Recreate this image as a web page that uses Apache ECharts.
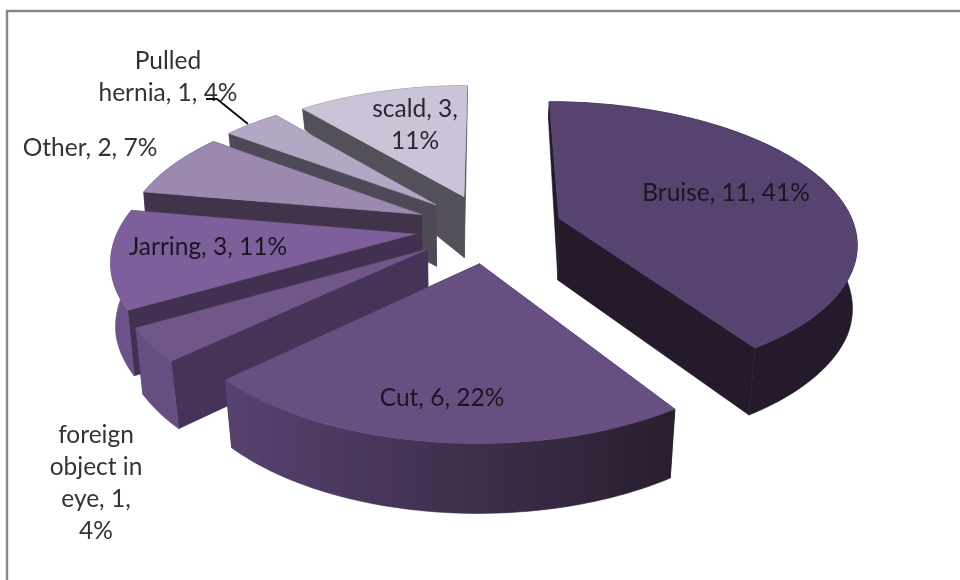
<!DOCTYPE html>
<html>
<head>
<meta charset="utf-8">
<style>
  html, body { margin: 0; padding: 0; background: #fff; }
  #chart { width: 960px; height: 580px; }
</style>
<script src="https://cdn.jsdelivr.net/npm/echarts@6/dist/echarts.min.js"></script>
</head>
<body>
<div id="chart"></div>
<script>
// data
var categories = ['Bruise', 'Cut', 'foreign object in eye', 'Jarring', 'Other', 'Pulled hernia', 'scald'];
var values = [11, 6, 1, 3, 2, 1, 3];
var wordsPerLine = [[3], [3], [1, 2, 2, 1], [3], [3], [1, 3], [2, 1]];

// slice colours
var topColors = ['#57436f', '#684f82', '#705689', '#7d5f9b', '#9c89af', '#b3a8c3', '#cbc4d8'];
var radialColors = ['#251a2b', '#2a2030', '#463358', '#41304f', '#40334a', '#4f4857', '#54505a'];
var rimColors = [
	['#251a2b', '#251a2b'],
	['#574270', '#281e2e'],
	['#654e82', '#654e82'],
	['#6b5289', '#6b5289'],
	['#40334a', '#40334a'],
	['#4f4857', '#4f4857'],
	['#54505a', '#54505a']
];
// label centres in pixels, and their ink
var labelPos = [[726, 193], [442, 398], [96, 483], [208, 247], [90, 148], [168, 77], [415, 125]];
var labelColors = ['#1a1620', '#1a1620', '#333', '#1a1620', '#333', '#333', '#2a2830'];

// projection fitted to the picture
var cx = 488.5, cy = 228, scaleX = 296, scaleY = 138, persp = 0.16, explode = 0.251;

function project(u, v) {
	var w = 1 + persp * v;
	return [cx + scaleX * u / w, cy - scaleY * v / w];
}

// the underside sits lower and pulls slightly to the centre
function dropped(u, v) {
	var p = project(u, v);
	var h = v > 0.24 ? 61 - (v - 0.24) * 52.6 : 61 + (0.24 - v) * 6;
	var pull = 0.975 + 0.012 * Math.max(0, Math.min(1, (v + 0.9) / 0.6));
	return [cx + (p[0] - cx) * pull, p[1] + h];
}

function labelText(i, pct) {
	var words = (categories[i] + ', ' + values[i] + ', ' + pct + '%').split(' ');
	var at = 0;
	return wordsPerLine[i].map(function (n) {
		var line = words.slice(at, at + n).join(' ');
		at += n;
		return line;
	}).join('\n');
}

var total = values.reduce(function (a, b) { return a + b; }, 0);
var slices = [];
var sum = 0;
values.forEach(function (val, i) {
	var a0 = sum / total * Math.PI * 2;
	sum += val;
	var a1 = sum / total * Math.PI * 2;
	var mid = (a0 + a1) / 2;
	slices.push({ a0: a0, a1: a1, ou: explode * Math.sin(mid), ov: explode * Math.cos(mid) });
});

function rimPoints(s) {
	var n = Math.max(4, Math.ceil((s.a1 - s.a0) * 40));
	var pts = [];
	for (var k = 0; k <= n; k++) {
		var a = s.a0 + (s.a1 - s.a0) * k / n;
		pts.push([s.ou + Math.sin(a), s.ov + Math.cos(a)]);
	}
	return pts;
}

function renderSlice(params) {
	var i = params.dataIndex;
	var s = slices[i];
	var rim = rimPoints(s);
	var apex = [s.ou, s.ov];
	var first = rim[0], last = rim[rim.length - 1];
	var base = Math.round((1 - s.ov) * 100) * 10;

	var wall = function (a, b) {
		return {
			type: 'polygon',
			z2: base + ((a[1] + b[1]) < (apex[1] + last[1]) ? 2 : 1),
			shape: { points: [project(a[0], a[1]), project(b[0], b[1]), dropped(b[0], b[1]), dropped(a[0], a[1])] },
			style: { fill: radialColors[i], stroke: radialColors[i], lineWidth: 0.6 }
		};
	};

	var top = rim.map(function (p) { return project(p[0], p[1]); });
	var bottom = rim.map(function (p) { return dropped(p[0], p[1]); }).reverse();
	var rimFill = new echarts.graphic.LinearGradient(0, 0, 1, 0, [
		{ offset: 0, color: rimColors[i][0] },
		{ offset: 1, color: rimColors[i][1] }
	]);

	return {
		type: 'group',
		children: [
			wall(apex, first),
			wall(apex, last),
			{
				type: 'polygon',
				z2: base + 3,
				shape: { points: top.concat(bottom) },
				style: { fill: rimFill, stroke: rimFill, lineWidth: 0.6 }
			},
			{
				type: 'polygon',
				z2: base + 4,
				shape: { points: [project(apex[0], apex[1])].concat(top) },
				style: { fill: topColors[i], stroke: topColors[i], lineWidth: 0.6 }
			},
			{
				type: 'text',
				z2: 5000,
				x: labelPos[i][0],
				y: labelPos[i][1],
				style: {
					text: labelText(i, Math.round(values[i] / total * 100)),
					fill: labelColors[i],
					font: '24.5px Lato',
					lineHeight: 32,
					align: 'center',
					verticalAlign: 'middle'
				}
			}
		]
	};
}

var myChart = echarts.init(document.getElementById('chart'));
myChart.setOption({
	animation: false,
	backgroundColor: '#fff',
	graphic: [
		{
			// frame runs off the right and bottom of the photo
			type: 'rect',
			shape: { x: 7, y: 11, width: 980, height: 600 },
			style: { fill: 'none', stroke: '#868686', lineWidth: 2.4 }
		},
		{
			type: 'polyline',
			z: 10,
			shape: { points: [[206, 99], [217, 99], [248, 124]] },
			style: { fill: 'none', stroke: '#111', lineWidth: 2 }
		}
	],
	series: [{
		type: 'custom',
		coordinateSystem: 'none',
		silent: true,
		data: values,
		renderItem: renderSlice
	}]
});
</script>
</body>
</html>
